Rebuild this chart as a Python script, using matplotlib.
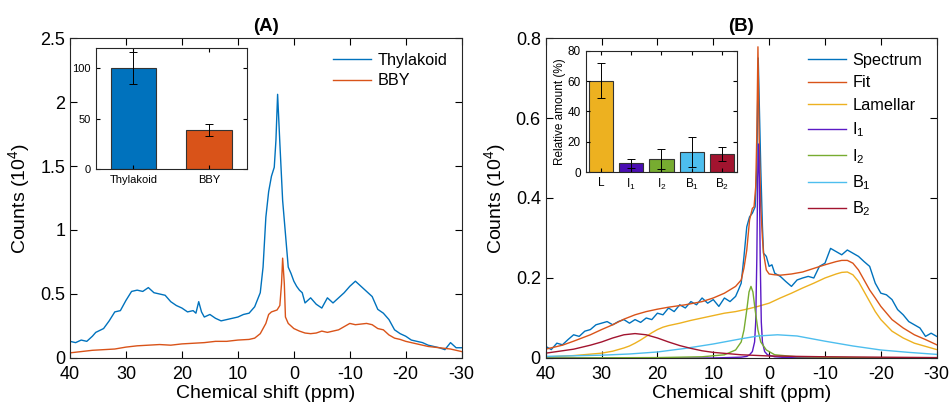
import numpy as np
import matplotlib.pyplot as plt

plt.rcParams['font.family'] = ['Liberation Sans', 'DejaVu Sans']
plt.rcParams['mathtext.fontset'] = 'custom'
plt.rcParams['mathtext.rm'] = 'Liberation Sans'
plt.rcParams['axes.unicode_minus'] = False

# ---- panel A: spectra (ppm, counts in 1e4) ----
thy_ppm = [40, 39, 38, 37, 36, 35.4, 34, 33, 32, 31, 30, 29, 28, 27, 26, 25, 24, 23, 22, 21, 20, 19, 18,
           17.5, 17, 16.5, 16, 15, 14, 13, 12, 11, 10, 9, 8, 7, 6, 5.5, 5, 4.5, 4, 3.5, 3.2, 2.9, 2.5, 2,
           1.5, 1, 0.5, 0, -0.5, -1, -1.5, -2, -3, -4, -5, -6, -7, -8, -9, -10, -11, -12, -13, -14,
           -15, -16, -17, -18, -19, -20, -21, -22, -23, -24, -25, -26, -27, -28, -29, -30]
thy_val = [0.13, 0.12, 0.14, 0.13, 0.17, 0.20, 0.23, 0.29, 0.36, 0.37, 0.45, 0.52, 0.53, 0.52, 0.55, 0.51,
           0.50, 0.49, 0.44, 0.41, 0.39, 0.36, 0.37, 0.35, 0.44, 0.36, 0.32, 0.34, 0.31, 0.29, 0.30, 0.31,
           0.32, 0.34, 0.35, 0.40, 0.51, 0.71, 1.10, 1.30, 1.42, 1.49, 1.70, 2.06, 1.68, 1.23,
           0.97, 0.71, 0.66, 0.60, 0.56, 0.53, 0.51, 0.43, 0.47, 0.42, 0.39, 0.47, 0.43, 0.47, 0.51, 0.56,
           0.60, 0.56, 0.52, 0.48, 0.38, 0.35, 0.30, 0.22, 0.19, 0.17, 0.14, 0.13, 0.12, 0.10, 0.09, 0.08,
           0.065, 0.12, 0.08, 0.08]
bby_ppm = [40, 38, 36, 34, 32, 30, 28, 26, 24, 22, 20, 18, 16, 14, 12, 10, 8, 7, 6, 5, 4.5, 4, 3, 2.5,
           2.2, 2, 1.7, 1.5, 1, 0, -1, -2, -3, -4, -5, -6, -7, -8, -9, -10, -11, -12, -13, -14, -15,
           -16, -17, -18, -19, -20, -22, -24, -26, -28, -30]
bby_val = [0.04, 0.05, 0.06, 0.065, 0.07, 0.085, 0.095, 0.10, 0.105, 0.10, 0.11, 0.115, 0.12, 0.13, 0.13,
           0.14, 0.145, 0.155, 0.19, 0.27, 0.34, 0.36, 0.375, 0.41, 0.58, 0.78, 0.58, 0.32, 0.27, 0.23,
           0.21, 0.195, 0.19, 0.195, 0.21, 0.20, 0.21, 0.22, 0.245, 0.27, 0.26, 0.265, 0.27, 0.26, 0.23,
           0.22, 0.18, 0.155, 0.145, 0.13, 0.11, 0.09, 0.08, 0.07, 0.05]

# inset A
inA_labels = ['Thylakoid', 'BBY']
inA_vals = [100, 38.8]
inA_err = [15.5, 5.5]

# ---- panel B ----
spec_ppm = [40, 39, 38, 37, 36, 35, 34, 33, 32, 31, 30, 29, 28, 27, 26, 25, 24, 23, 22, 21, 20, 19, 18,
            17, 16, 15, 14, 13, 12, 11, 10, 9, 8, 7, 6, 5.5, 5, 4.5, 4, 3.5, 3, 2.5, 2.2, 1.95, 1.5, 1.2,
            1, 0.5, 0, -0.5, -1, -2, -3, -4, -5, -6, -7, -8, -9, -10, -11, -12, -13, -14, -15, -16, -17,
            -18, -19, -20, -21, -22, -23, -24, -25, -26, -27, -28, -29, -30]
spec_val = [0.029, 0.021, 0.037, 0.033, 0.046, 0.058, 0.054, 0.067, 0.071, 0.083, 0.087, 0.091, 0.083,
            0.091, 0.096, 0.087, 0.096, 0.089, 0.100, 0.096, 0.112, 0.108, 0.125, 0.116, 0.133, 0.125,
            0.141, 0.133, 0.150, 0.137, 0.146, 0.129, 0.150, 0.141, 0.154, 0.170, 0.187, 0.254, 0.328,
            0.353, 0.362, 0.378, 0.478, 0.75, 0.478, 0.33, 0.262, 0.254, 0.229, 0.233, 0.212, 0.204,
            0.191, 0.179, 0.195, 0.200, 0.204, 0.200, 0.229, 0.237, 0.274, 0.266, 0.258, 0.270, 0.262,
            0.254, 0.241, 0.229, 0.187, 0.162, 0.158, 0.146, 0.121, 0.108, 0.091, 0.083, 0.075, 0.054,
            0.062, 0.054]
fit_ppm = [40, 37, 35, 32, 30, 28, 26, 24, 22, 20, 18, 15, 12, 10, 8, 6, 5, 4.5, 4, 3.5, 3, 2.7, 2.4,
           2.2, 2.0, 1.8, 1.5, 1.2, 1, 0.5, 0, -1, -2, -4, -6, -8, -10, -12, -13, -14, -15, -16, -17,
           -18, -19, -20, -22, -24, -26, -28, -30]
fit_val = [0.022, 0.032, 0.042, 0.058, 0.071, 0.083, 0.097, 0.108, 0.116, 0.122, 0.127, 0.133, 0.141,
           0.150, 0.162, 0.179, 0.195, 0.225, 0.270, 0.345, 0.374, 0.378, 0.428, 0.561, 0.778, 0.561,
           0.378, 0.30, 0.262, 0.220, 0.210, 0.208, 0.207, 0.210, 0.215, 0.224, 0.233, 0.241, 0.244,
           0.244, 0.237, 0.220, 0.195, 0.170, 0.150, 0.129, 0.096, 0.075, 0.058, 0.046, 0.033]
lam_ppm = [40, 35, 30, 28, 27, 26, 25, 24, 23, 22, 21, 20, 19, 18, 17, 16, 14, 12, 10, 8, 6, 4, 2, 0,
           -2, -4, -6, -8, -10, -12, -13, -14, -15, -16, -17, -18, -19, -20, -22, -24, -26, -28, -30]
lam_val = [0.0025, 0.006, 0.012, 0.017, 0.021, 0.025, 0.030, 0.037, 0.045, 0.054, 0.063, 0.071, 0.077,
           0.081, 0.084, 0.087, 0.094, 0.100, 0.106, 0.112, 0.116, 0.122, 0.129, 0.137, 0.150, 0.162,
           0.175, 0.187, 0.200, 0.210, 0.214, 0.215, 0.208, 0.191, 0.166, 0.141, 0.116, 0.096, 0.067,
           0.050, 0.037, 0.029, 0.021]
i1_ppm = [40, 10, 5, 4, 3.5, 3, 2.6, 2.4, 2.2, 2.05, 1.9, 1.75, 1.6, 1.4, 1.2, 0.8, 0.3, -1, -3, -10, -30]
i1_val = [0, 0, 0.002, 0.004, 0.008, 0.016, 0.04, 0.09, 0.25, 0.45, 0.535, 0.45, 0.25, 0.09, 0.04, 0.016,
          0.008, 0.003, 0.001, 0, 0]
i2_ppm = [40, 20, 12, 8, 6, 5, 4.5, 4, 3.6, 3.25, 2.9, 2.5, 2, 1.5, 0.5, -1, -5, -15, -30]
i2_val = [0, 0.001, 0.003, 0.008, 0.02, 0.04, 0.07, 0.12, 0.165, 0.179, 0.165, 0.12, 0.07, 0.04, 0.02,
          0.008, 0.003, 0.001, 0]
b1_ppm = [40, 30, 25, 20, 15, 10, 5, 2, -1.5, -5, -10, -15, -20, -25, -30]
b1_val = [0.004, 0.007, 0.010, 0.015, 0.024, 0.035, 0.048, 0.055, 0.058, 0.055, 0.042, 0.030, 0.020,
          0.014, 0.009]
b2_ppm = [40, 35, 32, 30, 28, 26, 24, 22, 20, 18, 16, 14, 12, 10, 5, 0, -10, -20, -30]
b2_val = [0.012, 0.022, 0.032, 0.040, 0.050, 0.058, 0.061, 0.058, 0.050, 0.040, 0.031, 0.024, 0.018,
          0.014, 0.008, 0.005, 0.003, 0.002, 0.001]

# inset B
inB_labels = ['L', '$\\mathrm{I_1}$', '$\\mathrm{I_2}$', '$\\mathrm{B_1}$', '$\\mathrm{B_2}$']
inB_vals = [60.3, 6.0, 8.5, 13.3, 12.2]
inB_err = [11.6, 3.0, 6.5, 9.8, 4.7]

blue = '#0072BD'
orange = '#D95319'
yellow = '#EDB120'
purple = '#5B1AC6'
green = '#77AC30'
cyan = '#4DBEEE'
crimson = '#A2142F'


def style_box(ax, size, length=4, pad=3.5):
    ax.tick_params(direction='in', top=True, right=True, labelsize=size, length=length, width=0.8, pad=pad)
    for s in ax.spines.values():
        s.set_linewidth(0.8)
        s.set_color('#262626')


fig = plt.figure(figsize=(9.5, 4.11), dpi=100)

# panel A
axA = fig.add_axes([0.0737, 0.129, 0.4123, 0.7785])
axA.plot(thy_ppm, thy_val, color=blue, lw=1.0, label='Thylakoid')
axA.plot(bby_ppm, bby_val, color=orange, lw=1.0, label='BBY')
axA.set_xlim(40, -30)
axA.set_ylim(0, 2.5)
axA.set_xticks([40, 30, 20, 10, 0, -10, -20, -30])
axA.set_yticks([0, 0.5, 1, 1.5, 2, 2.5])
axA.set_yticklabels(['0', '0.5', '1', '1.5', '2', '2.5'])
style_box(axA, 13, 5)
axA.tick_params(axis='x', pad=6)
axA.set_xlabel('Chemical shift (ppm)', fontsize=14, labelpad=1)
axA.set_ylabel('Counts (10$^4$)', fontsize=14, labelpad=5)
axA.set_title('(A)', fontsize=13.5, fontweight='bold', pad=5)
axA.legend(loc='upper right', frameon=False, fontsize=11.7, handlelength=2.3, handletextpad=0.4,
           labelspacing=0.35, borderaxespad=0.5)

inA = fig.add_axes([0.1007, 0.588, 0.1593, 0.296])
inA.bar([1, 2], inA_vals, width=0.6, color=[blue, orange], edgecolor='#333333', linewidth=0.8)
inA.errorbar([1, 2], inA_vals, yerr=inA_err, fmt='none', ecolor='black', elinewidth=0.7, capsize=3,
             capthick=0.7)
inA.set_xlim(0.5, 2.5)
inA.set_ylim(0, 120)
inA.set_xticks([1, 2])
inA.set_xticklabels(inA_labels)
inA.set_yticks([0, 50, 100])
style_box(inA, 8, 3)
inA.tick_params(axis='x', pad=4)

# panel B
axB = fig.add_axes([0.5744, 0.129, 0.4116, 0.7785])
axB.plot(spec_ppm, spec_val, color=blue, lw=1.0, label='Spectrum')
axB.plot(fit_ppm, fit_val, color=orange, lw=1.0, label='Fit')
axB.plot(lam_ppm, lam_val, color=yellow, lw=1.0, label='Lamellar')
axB.plot(i1_ppm, i1_val, color=purple, lw=1.0, label='$\\mathrm{I_1}$')
axB.plot(i2_ppm, i2_val, color=green, lw=1.0, label='$\\mathrm{I_2}$')
axB.plot(b1_ppm, b1_val, color=cyan, lw=1.0, label='$\\mathrm{B_1}$')
axB.plot(b2_ppm, b2_val, color=crimson, lw=1.0, label='$\\mathrm{B_2}$')
axB.set_xlim(40, -30)
axB.set_ylim(0, 0.8)
axB.set_xticks([40, 30, 20, 10, 0, -10, -20, -30])
axB.set_yticks([0, 0.2, 0.4, 0.6, 0.8])
axB.set_yticklabels(['0', '0.2', '0.4', '0.6', '0.8'])
style_box(axB, 13, 5)
axB.tick_params(axis='x', pad=6)
axB.set_xlabel('Chemical shift (ppm)', fontsize=14, labelpad=1)
axB.set_ylabel('Counts (10$^4$)', fontsize=14, labelpad=5)
axB.set_title('(B)', fontsize=13.5, fontweight='bold', pad=5)
axB.legend(loc='upper right', frameon=False, fontsize=11.7, handlelength=2.3, handletextpad=0.4,
           labelspacing=0.47, borderaxespad=0.5)

inB = fig.add_axes([0.6165, 0.581, 0.1595, 0.2957])
xb = np.arange(1, len(inB_vals) + 1)
inB.bar(xb, inB_vals, width=0.8, color=[yellow, '#4A0DB3', green, cyan, crimson],
        edgecolor='#333333', linewidth=0.8)
inB.errorbar(xb, inB_vals, yerr=inB_err, fmt='none', ecolor='black', elinewidth=0.7, capsize=3,
             capthick=0.7)
inB.set_xlim(0.5, 5.5)
inB.set_ylim(0, 80)
inB.set_xticks(xb)
inB.set_xticklabels(inB_labels)
inB.set_yticks([0, 20, 40, 60, 80])
style_box(inB, 8.5, 3)
inB.set_ylabel('Relative amount (%)', fontsize=8.5, labelpad=1)

fig.savefig('out.png', dpi=100)
